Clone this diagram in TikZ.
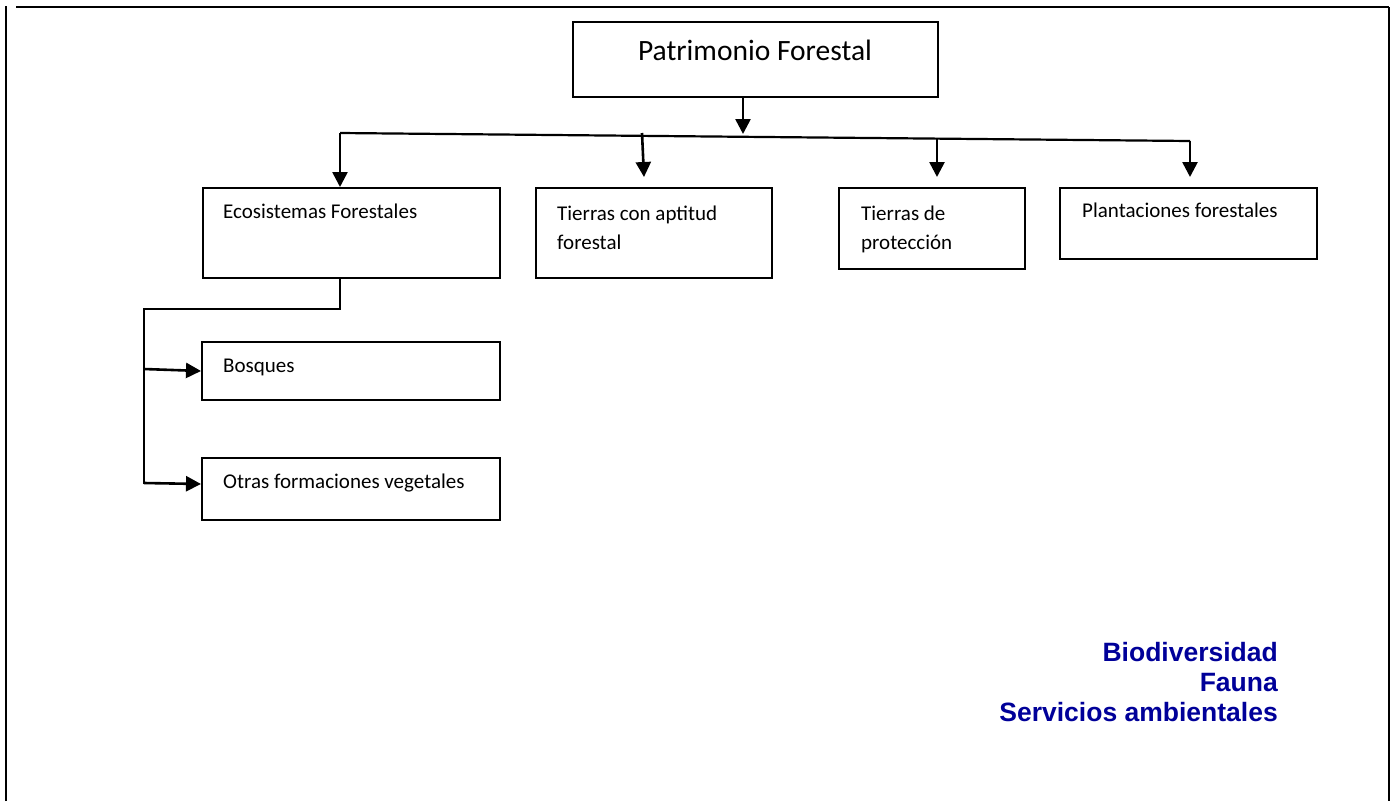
\documentclass[tikz,border=0pt]{standalone}
\usepackage{fontspec}
\setmainfont{Carlito}
\newfontfamily\arialfont{Liberation Sans}
\usetikzlibrary{arrows.meta}
\definecolor{bluetxt}{RGB}{0,0,153}
\begin{document}
\begin{tikzpicture}[x=1pt,y=-1pt,
  box/.style={draw,line width=2pt,rectangle,inner sep=0pt,anchor=north west},
  lbl/.style={anchor=base west,inner sep=0pt,font=\fontsize{21}{29}\selectfont},
  blue/.style={anchor=base east,inner sep=0pt,text=bluetxt,font=\arialfont\bfseries\fontsize{26.5}{30}\selectfont},
  arr/.style={line width=2.6pt,-{Triangle[width=15pt,length=15pt]}},
  conn/.style={line width=2.2pt},
  frame/.style={line width=2.6pt}]
\useasboundingbox (0,0) rectangle (1397,801);
% frame
\coordinate (f1) at (6,801);
\coordinate (f2) at (6,6);
\coordinate (f3) at (16,7);
\coordinate (f4) at (1389,7);
\coordinate (f5) at (1389,801);
\draw[frame] (f1) -- (f2);
\draw[line width=1.8pt] (f3) -- (f4);
\draw[frame] (f4) -- (f5);
% boxes
\node[box,minimum width=365pt,minimum height=75pt] (pf) at (572,21) {};
\node[box,minimum width=297pt,minimum height=90pt] (eco) at (202,187) {};
\node[box,minimum width=236pt,minimum height=90pt] (apt) at (535,187) {};
\node[box,minimum width=186pt,minimum height=81pt] (pro) at (838,187) {};
\node[box,minimum width=257pt,minimum height=71pt] (pla) at (1059,187) {};
\node[box,minimum width=298pt,minimum height=58pt] (bos) at (201,341) {};
\node[box,minimum width=298pt,minimum height=62pt] (otr) at (201,457) {};
% texts
\node[anchor=base,inner sep=0pt,font=\fontsize{29.5}{35}\selectfont] (tpf) at (755,60) {Patrimonio Forestal};
\node[lbl] (teco) at (223,218) {Ecosistemas Forestales};
\node[lbl] (tapt1) at (557,220) {Tierras con aptitud};
\node[lbl] (tapt2) at (557,249) {forestal};
\node[lbl] (tpro1) at (861,220) {Tierras de};
\node[lbl] (tpro2) at (861,249) {protección};
\node[lbl] (tpla) at (1082,217) {Plantaciones forestales};
\node[lbl] (tbos) at (223,372) {Bosques};
\node[lbl] (totr) at (223,488) {Otras formaciones vegetales};
\node[blue] (b1) at (1278,661) {Biodiversidad};
\node[blue] (b2) at (1278,691) {Fauna};
\node[blue] (b3) at (1278,721) {Servicios ambientales};
% top connectors
\coordinate (hub) at (743,134);
\coordinate (hl) at (340,133);
\coordinate (hr) at (1190,141);
\coordinate (a1) at (642,133);
\coordinate (a1e) at (644,177);
\coordinate (a2) at (937,139);
\coordinate (a2e) at (937,177);
\coordinate (a3e) at (1190,177);
\draw[arr] (pf.south -| hub) -- (hub);
\draw[conn] (hl) -- (hr);
\draw[arr] (hl) -- (hl |- eco.north);
\draw[arr] (a1) -- (a1e);
\draw[arr] (a2) -- (a2e);
\draw[arr] (hr) -- (a3e);
% lower connectors
\coordinate (e1) at (340,309);
\coordinate (e2) at (144,309);
\coordinate (e3) at (144,484);
\coordinate (s1) at (144,369);
\coordinate (s2) at (144,483);
\coordinate (t1) at (201,371);
\coordinate (t2) at (201,484);
\draw[conn] (eco.south -| e1) -- (e1) -- (e2) -- (e3);
\draw[arr] (s1) -- (t1 -| bos.west);
\draw[arr] (s2) -- (t2 -| otr.west);
\end{tikzpicture}
\end{document}
